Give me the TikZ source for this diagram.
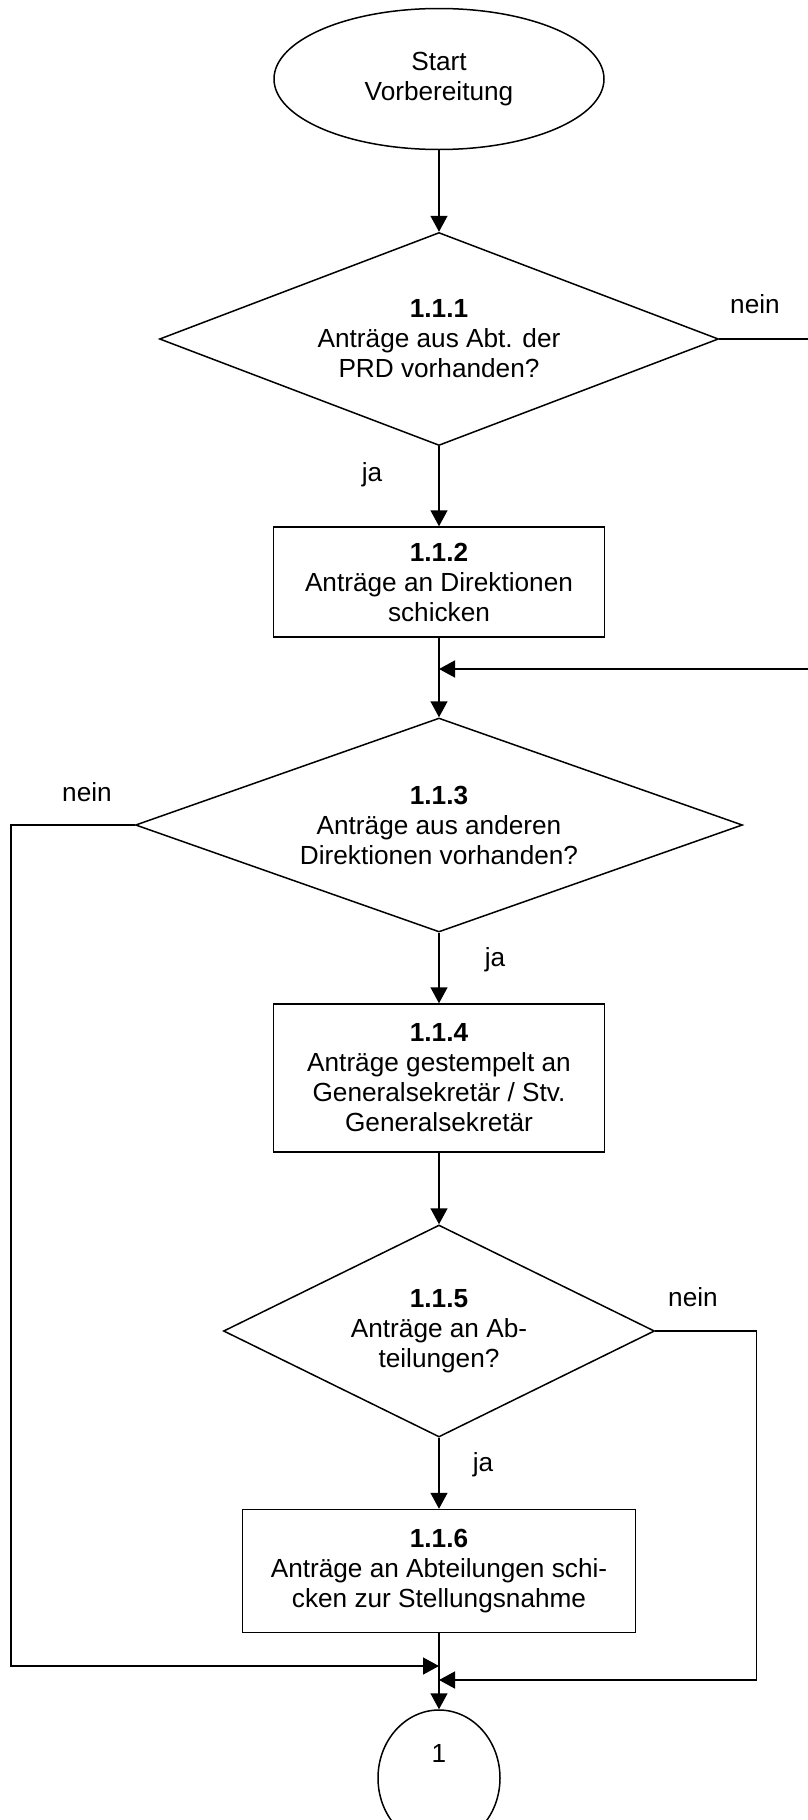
\documentclass[tikz,border=0pt]{standalone}
\usepackage{fontspec}
\setmainfont{Liberation Sans}
\usepackage{tikz}
\usetikzlibrary{shapes.geometric,arrows.meta,positioning}

\begin{document}
\begin{tikzpicture}[x=0.5pt,y=-0.5pt,
    every node/.style={font=\fontsize{13.1}{15}\selectfont,align=center},
    terminal/.style={ellipse,draw,line width=0.75pt,inner sep=0pt},
    process/.style={rectangle,draw,line width=0.75pt,inner sep=0pt},
    decision/.style={diamond,draw,line width=0.75pt,inner sep=0pt},
    flow/.style={line width=0.75pt,-{Triangle[length=8pt,width=8.5pt]}}]
  \useasboundingbox (0,0) rectangle (808,1820);
  % Steps
  \node[terminal,minimum width=165pt,minimum height=70.5pt] (start) at (439,79) {Start\\Vorbereitung};
  \node[decision,minimum width=279.5pt,minimum height=106.5pt,aspect=2.62] (d1) at (439,339) {\textbf{1.1.1}\\Anträge aus Abt. der\\PRD vorhanden?};
  \node[process,minimum width=165.5pt,minimum height=55pt] (b2) at (439,582) {\textbf{1.1.2}\\Anträge an Direktionen\\schicken};
  \node[decision,minimum width=303.5pt,minimum height=107pt,aspect=2.84] (d3) at (439,825) {\textbf{1.1.3}\\Anträge aus anderen\\Direktionen vorhanden?};
  \node[process,minimum width=165.5pt,minimum height=74pt] (b4) at (439,1078) {\textbf{1.1.4}\\Anträge gestempelt an\\Generalsekretär / Stv.\\Generalsekretär};
  \node[decision,minimum width=215.5pt,minimum height=106pt,aspect=2.03] (d5) at (439,1331) {\textbf{1.1.5}\\Anträge an Ab-\\teilungen?};
  \node[process,minimum width=196.5pt,minimum height=61.5pt] (b6) at (439,1571) {\textbf{1.1.6}\\Anträge an Abteilungen schi-\\cken zur Stellungsnahme};
  \node[terminal,minimum width=61pt,minimum height=68pt,text height=9pt,text depth=24.8pt] (c1) at (439,1778) {1};
  % Merge points
  \coordinate (m1) at (439,669);
  \coordinate (m2) at (439,1666);
  \coordinate (m3) at (439,1680);
  % Connectors
  \draw[flow] (start) -- (d1);
  \draw[flow] (d1) -- (b2);
  \draw[flow] (b2) -- (d3);
  \draw[flow] (d3) -- (b4);
  \draw[flow] (b4) -- (d5);
  \draw[flow] (d5) -- (b6);
  \draw[flow] (b6) -- (c1);
  \draw[flow] (d1.east) -- ++(130,0) |- (m1);
  \draw[flow] (d3.west) -- ++(-124,0) |- (m2);
  \draw[flow] (d5.east) -- ++(101,0) |- (m3);
  % Labels
  \node (nein1) at (755,304) {nein};
  \node (ja1) at (372,475) {ja};
  \node (nein3) at (87,792) {nein};
  \node (ja3) at (495,960) {ja};
  \node (nein5) at (693,1297) {nein};
  \node (ja5) at (483,1465) {ja};
\end{tikzpicture}
\end{document}
